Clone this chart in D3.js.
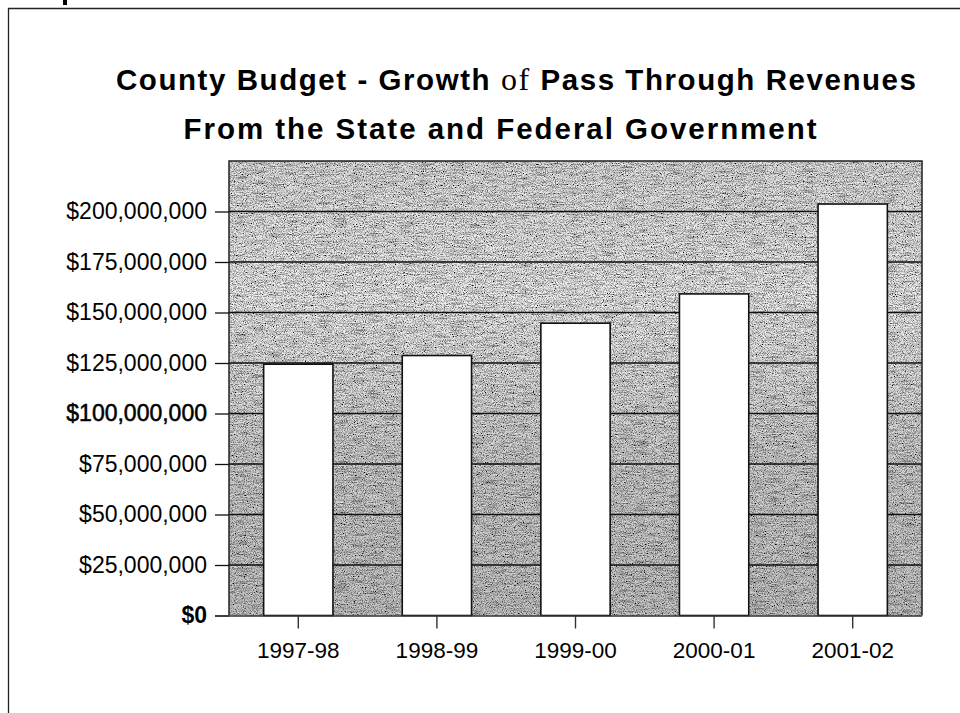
<!DOCTYPE html>
<html>
<head>
<meta charset="utf-8">
<script src="https://cdn.jsdelivr.net/npm/d3@7"></script>
<style>
  html, body { margin: 0; padding: 0; background: #ffffff; }
  svg { display: block; }
</style>
</head>
<body>
<svg id="chart" width="960" height="713"></svg>
<script>
// Pass-through revenues by fiscal year (dollars)
const fiscalYears = ["1997-98", "1998-99", "1999-00", "2000-01", "2001-02"];
const revenues = [124400000, 128700000, 144700000, 159200000, 203700000];
const tickValues = [0, 25000000, 50000000, 75000000, 100000000, 125000000, 150000000, 175000000, 200000000];
const titleLines = [
  ["County Budget - Growth ", "of", " Pass Through Revenues"],
  ["From the State and Federal Government"]
];

const svg = d3.select("#chart");
const font = "'Liberation Sans', Arial, Helvetica, sans-serif";

// page frame
svg.append("path")
  .attr("d", "M8.5,713 V8.5 H960")
  .attr("fill", "none")
  .attr("stroke", "#222")
  .attr("stroke-width", 1.3);

// stem of a letter left over from the line above the frame
svg.append("rect")
  .attr("x", 63).attr("y", 0)
  .attr("width", 4).attr("height", 5)
  .attr("fill", "#000");

// plot geometry
const plot = { left: 229, right: 922, top: 161, bottom: 615.5 };

const x = d3.scaleBand()
  .domain(fiscalYears)
  .range([plot.left, plot.right])
  .paddingInner(0.5)
  .paddingOuter(0.25);

const y = d3.scaleLinear()
  .domain([0, 225000000])
  .range([plot.bottom, plot.top]);

// grainy grey plot background
const defs = svg.append("defs");
const grain = defs.append("filter")
  .attr("id", "grain")
  .attr("filterUnits", "userSpaceOnUse")
  .attr("x", plot.left).attr("y", plot.top)
  .attr("width", plot.right - plot.left).attr("height", plot.bottom - plot.top);
grain.append("feTurbulence")
  .attr("type", "fractalNoise").attr("baseFrequency", "0.9 0.9")
  .attr("numOctaves", 2).attr("seed", 7).attr("result", "fine");
grain.append("feColorMatrix")
  .attr("in", "fine").attr("type", "matrix")
  .attr("values", "2.4 0 0 0 -0.48  2.4 0 0 0 -0.48  2.4 0 0 0 -0.48  0 0 0 0 1")
  .attr("result", "fineGrey");
grain.append("feTurbulence")
  .attr("type", "fractalNoise").attr("baseFrequency", "0.06 0.7")
  .attr("numOctaves", 2).attr("seed", 3).attr("result", "streak");
grain.append("feColorMatrix")
  .attr("in", "streak").attr("type", "matrix")
  .attr("values", "1.6 0 0 0 0.16  1.6 0 0 0 0.16  1.6 0 0 0 0.16  0 0 0 0 1")
  .attr("result", "streakGrey");
grain.append("feBlend")
  .attr("in", "fineGrey").attr("in2", "streakGrey").attr("mode", "multiply")
  .attr("result", "tex");
grain.append("feBlend")
  .attr("in", "tex").attr("in2", "SourceGraphic").attr("mode", "multiply");

const shade = defs.append("linearGradient")
  .attr("id", "shade").attr("x1", 0).attr("y1", 0).attr("x2", 0).attr("y2", 1);
shade.append("stop").attr("offset", "0%").attr("stop-color", "#e6e6e6");
shade.append("stop").attr("offset", "30%").attr("stop-color", "#f4f4f4");
shade.append("stop").attr("offset", "65%").attr("stop-color", "#d6d6d6");
shade.append("stop").attr("offset", "100%").attr("stop-color", "#cccccc");

svg.append("rect")
  .attr("x", plot.left).attr("y", plot.top)
  .attr("width", plot.right - plot.left).attr("height", plot.bottom - plot.top)
  .attr("fill", "url(#shade)")
  .attr("filter", "url(#grain)");

// horizontal gridlines
svg.append("g")
  .selectAll("line")
  .data(tickValues.filter(d => d > 0))
  .join("line")
  .attr("x1", plot.left).attr("x2", plot.right)
  .attr("y1", d => y(d)).attr("y2", d => y(d))
  .attr("stroke", "#111").attr("stroke-width", 1.6);

// plot border
svg.append("path")
  .attr("d", `M${plot.left},${plot.bottom} V${plot.top} H${plot.right} V${plot.bottom}`)
  .attr("fill", "none").attr("stroke", "#222").attr("stroke-width", 1.5);

// bars
svg.append("g")
  .selectAll("rect")
  .data(fiscalYears.map((k, i) => ({ k, v: revenues[i] })))
  .join("rect")
  .attr("x", d => x(d.k))
  .attr("y", d => y(d.v))
  .attr("width", x.bandwidth())
  .attr("height", d => y(0) - y(d.v))
  .attr("fill", "#ffffff")
  .attr("stroke", "#111")
  .attr("stroke-width", 1.6);

// y axis
const money = d3.format("$,.0f");
const yAxis = svg.append("g")
  .attr("transform", `translate(${plot.left},0)`)
  .call(d3.axisLeft(y).tickValues(tickValues).tickFormat(money).tickSize(14).tickPadding(8));
yAxis.select(".domain").remove();
yAxis.selectAll(".tick line").attr("stroke", "#111").attr("stroke-width", 1.3);
yAxis.selectAll(".tick text")
  .attr("font-family", font).attr("font-size", 23).attr("fill", "#000")
  .attr("font-weight", d => d === 0 ? "bold" : "normal")
  .attr("stroke", d => d === 100000000 ? "#000" : "none")
  .attr("stroke-width", 0.5);

// x axis
const xAxis = svg.append("g")
  .attr("transform", `translate(0,${plot.bottom})`)
  .call(d3.axisBottom(x).tickSize(13).tickPadding(14));
xAxis.select(".domain")
  .attr("d", `M${plot.left - 14},0.5 H${plot.right}`)
  .attr("stroke", "#333").attr("stroke-width", 1.4);
xAxis.selectAll(".tick line").attr("stroke", "#333").attr("stroke-width", 1.4);
xAxis.selectAll(".tick text")
  .attr("font-family", font).attr("font-size", 22.5).attr("fill", "#000");

// title
const titleSpec = [
  { cx: 516, y: 90, w: 800 },
  { cx: 500, y: 139, w: 633 }
];
titleLines.forEach((parts, i) => {
  const t = svg.append("text")
    .attr("x", titleSpec[i].cx).attr("y", titleSpec[i].y)
    .attr("text-anchor", "middle")
    .attr("font-family", font).attr("font-weight", "bold").attr("font-size", 29.5)
    .attr("fill", "#000")
    .attr("textLength", titleSpec[i].w).attr("lengthAdjust", "spacing");
  parts.forEach(p => {
    const s = t.append("tspan").text(p);
    if (p === "of") {
      s.attr("font-family", "'Liberation Serif', 'Times New Roman', serif")
        .attr("font-weight", "normal").attr("font-size", 32);
    }
  });
});
</script>
</body>
</html>
